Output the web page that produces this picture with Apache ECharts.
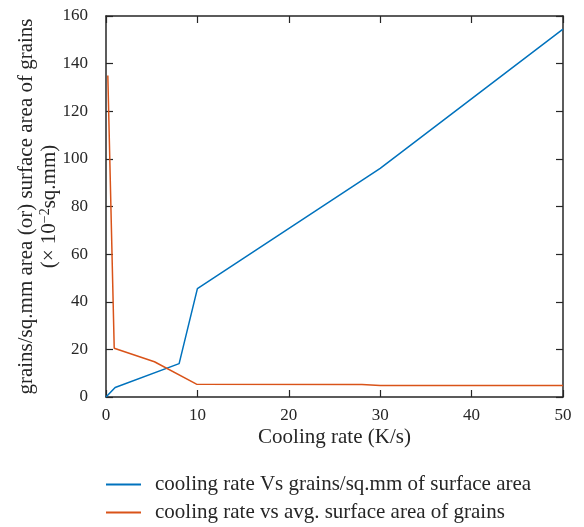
<!DOCTYPE html>
<html>
<head>
<meta charset="utf-8">
<style>
  html, body { margin: 0; padding: 0; background: #fff; }
  #chart { width: 584px; height: 527px; }
</style>
<script src="https://cdn.jsdelivr.net/npm/echarts@6/dist/echarts.min.js"></script>
</head>
<body>
<div id="chart"></div>
<script>
// Cooling rate (K/s) vs grain counts and grain surface area
const seriesNames = [
  'cooling rate Vs grains/sq.mm of surface area',
  'cooling rate vs avg. surface area of grains'
];
const seriesColors = ['#0072BD', '#D95319'];
const grainsCount = [[0, 0], [1, 4], [8, 14], [10, 45.5], [30, 96], [50, 154.5]];
const grainArea = [[0.2, 135], [0.9, 20.5], [5.3, 14.8], [9.9, 5.4], [28, 5.3], [30, 4.8], [50, 4.8]];
const xTicks = [0, 10, 20, 30, 40, 50];
const yTicks = [0, 20, 40, 60, 80, 100, 120, 140, 160];

const FONT = '"Liberation Serif", "DejaVu Serif", serif';
const AXIS_COLOR = '#262626';
const TEXT_COLOR = '#262626';
const TITLE_SIZE = 21;

const chart = echarts.init(document.getElementById('chart'), null, { renderer: 'canvas' });

// Shared style for the four sides of the boxed plot area
const boxAxis = () => ({
  axisLine: { show: true, onZero: false, lineStyle: { color: AXIS_COLOR, width: 1.5 } },
  axisTick: { show: true, inside: true, length: 7, lineStyle: { color: AXIS_COLOR, width: 1.2 } },
  splitLine: { show: false }
});

const legendFor = (i, top) => ({
  orient: 'horizontal', left: 106, top: top, padding: 0, itemWidth: 35, itemHeight: 2,
  icon: 'rect',
  textStyle: { fontFamily: FONT, fontSize: TITLE_SIZE, color: TEXT_COLOR, padding: [0, 0, 0, 9] },
  data: [seriesNames[i]]
});

chart.setOption({
  animation: false,
  grid: { left: 106, right: 21, top: 16, bottom: 130, containLabel: false, outerBoundsMode: 'none' },
  xAxis: [
    Object.assign(boxAxis(), {
      type: 'value', min: xTicks[0], max: xTicks[xTicks.length - 1], interval: 10,
      name: 'Cooling rate (K/s)', nameLocation: 'middle', nameGap: 30, nameMoveOverlap: false,
      nameTextStyle: { fontFamily: FONT, fontSize: TITLE_SIZE, color: TEXT_COLOR },
      axisLabel: { margin: 10, fontFamily: FONT, fontSize: 17, color: TEXT_COLOR }
    }),
    Object.assign(boxAxis(), {
      type: 'value', position: 'top', min: xTicks[0], max: xTicks[xTicks.length - 1], interval: 10,
      axisLabel: { show: false }
    })
  ],
  yAxis: [
    Object.assign(boxAxis(), {
      type: 'value', min: yTicks[0], max: yTicks[yTicks.length - 1], interval: 20,
      name: '{a|grains/sq.mm area (or) surface area of grains}\n{b|(× 10}{s|−2}{b|sq.mm)}',
      nameLocation: 'middle', nameGap: 45, nameRotate: 90, nameMoveOverlap: false,
      nameTextStyle: {
        fontFamily: FONT, fontSize: TITLE_SIZE, color: TEXT_COLOR, align: 'center', lineHeight: 23,
        rich: {
          a: { fontFamily: FONT, fontSize: TITLE_SIZE, color: TEXT_COLOR, lineHeight: 23 },
          b: { fontFamily: FONT, fontSize: TITLE_SIZE, color: TEXT_COLOR, lineHeight: 23 },
          s: { fontFamily: FONT, fontSize: 14, color: TEXT_COLOR, verticalAlign: 'top', lineHeight: 23, padding: [0, 0, 8, 0] }
        }
      },
      axisLabel: { margin: 18, fontFamily: FONT, fontSize: 17, color: TEXT_COLOR }
    }),
    Object.assign(boxAxis(), {
      type: 'value', position: 'right', min: yTicks[0], max: yTicks[yTicks.length - 1], interval: 20,
      axisLabel: { show: false }
    })
  ],
  legend: [legendFor(0, 474), legendFor(1, 502)],
  series: [
    {
      name: seriesNames[0], type: 'line', data: grainsCount, showSymbol: false, symbol: 'none',
      lineStyle: { color: seriesColors[0], width: 1.5 }, itemStyle: { color: seriesColors[0] }
    },
    {
      name: seriesNames[1], type: 'line', data: grainArea, showSymbol: false, symbol: 'none',
      lineStyle: { color: seriesColors[1], width: 1.5 }, itemStyle: { color: seriesColors[1] }
    }
  ]
});
</script>
</body>
</html>
